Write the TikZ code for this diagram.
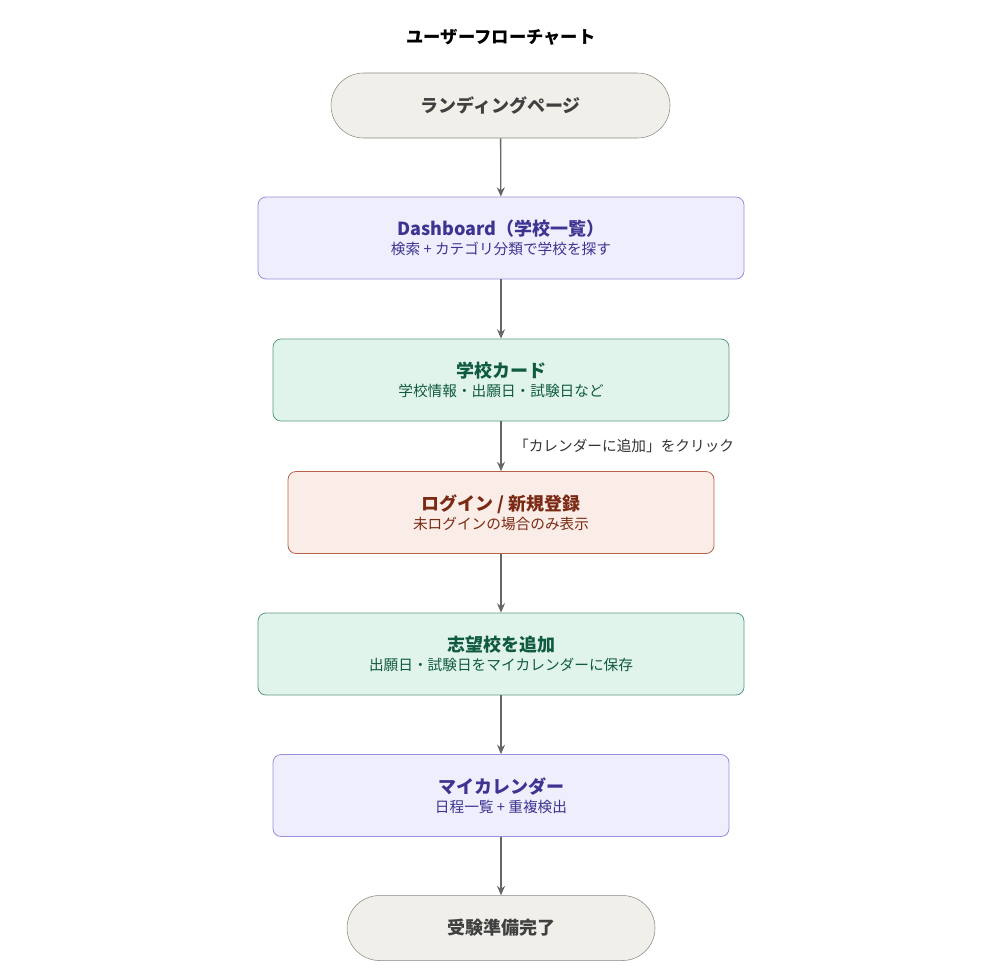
\documentclass[tikz,border=0pt]{standalone}
\usepackage{fontspec}
\setmainfont{Noto Sans CJK JP}
\usetikzlibrary{arrows.meta}
\definecolor{termfill}{HTML}{F1EFE9}
\definecolor{termline}{HTML}{8A8780}
\definecolor{purfill}{HTML}{EEEEFC}
\definecolor{purline}{HTML}{9A8FDC}
\definecolor{purtext}{HTML}{3C3490}
\definecolor{grnfill}{HTML}{E1F4EC}
\definecolor{grnline}{HTML}{5A9A80}
\definecolor{grntext}{HTML}{0F5A40}
\definecolor{orgfill}{HTML}{FAECE6}
\definecolor{orgline}{HTML}{B8624A}
\definecolor{orgtext}{HTML}{7A2A14}
\definecolor{arrowgrey}{HTML}{666666}
\newcommand{\hd}[1]{{\fontsize{13.5}{20}\selectfont\bfseries #1}}
\newcommand{\sub}[1]{{\fontsize{11}{16}\selectfont #1}}

\begin{document}
\begin{tikzpicture}[x=0.75pt,y=-0.75pt,
  term/.style={draw=termline, fill=termfill, rounded corners=32.5*0.75pt, minimum width=339*0.75pt, minimum height=65*0.75pt, text=black!75, font=\fontsize{13.5}{16}\selectfont\bfseries},
  box/.style={rounded corners=6pt, minimum height=82*0.75pt, align=center, line width=0.6pt},
  purbox/.style={box, draw=purline, fill=purfill, text=purtext},
  grnbox/.style={box, draw=grnline, fill=grnfill, text=grntext},
  orgbox/.style={box, draw=orgline, fill=orgfill, text=orgtext},
  flow/.style={-{Stealth[length=7pt,width=6pt]}, draw=arrowgrey, line width=1pt}]
\useasboundingbox (0,0) rectangle (1002,976);

\node[font=\fontsize{13}{16}\selectfont\bfseries] (title) at (501,37) {ユーザーフローチャート};

\node[term] (landing) at (500.5,105.5) {ランディングページ};
\node[purbox, minimum width=486*0.75pt] (dash) at (501,238) {\hd{Dashboard（学校一覧）}\\[2pt]\sub{検索 + カテゴリ分類で学校を探す}};
\node[grnbox, minimum width=456*0.75pt] (card) at (501,380) {\hd{学校カード}\\[2pt]\sub{学校情報・出願日・試験日など}};
\node[orgbox, minimum width=426*0.75pt] (login) at (501,512.5) {\hd{ログイン / 新規登録}\\[2pt]\sub{未ログインの場合のみ表示}};
\node[grnbox, minimum width=486*0.75pt] (add) at (501,654) {\hd{志望校を追加}\\[2pt]\sub{出願日・試験日をマイカレンダーに保存}};
\node[purbox, minimum width=456*0.75pt] (cal) at (501,795.5) {\hd{マイカレンダー}\\[2pt]\sub{日程一覧 + 重複検出}};
\node[term, minimum width=308*0.75pt] (done) at (501,928) {受験準備完了};

\draw[flow] (landing) -- (dash);
\draw[flow] (dash) -- (card);
\draw[flow] (card) -- node[right, xshift=6pt, text=black!80, font=\fontsize{11}{14}\selectfont] {「カレンダーに追加」をクリック} (login);
\draw[flow] (login) -- (add);
\draw[flow] (add) -- (cal);
\draw[flow] (cal) -- (done);
\end{tikzpicture}
\end{document}
